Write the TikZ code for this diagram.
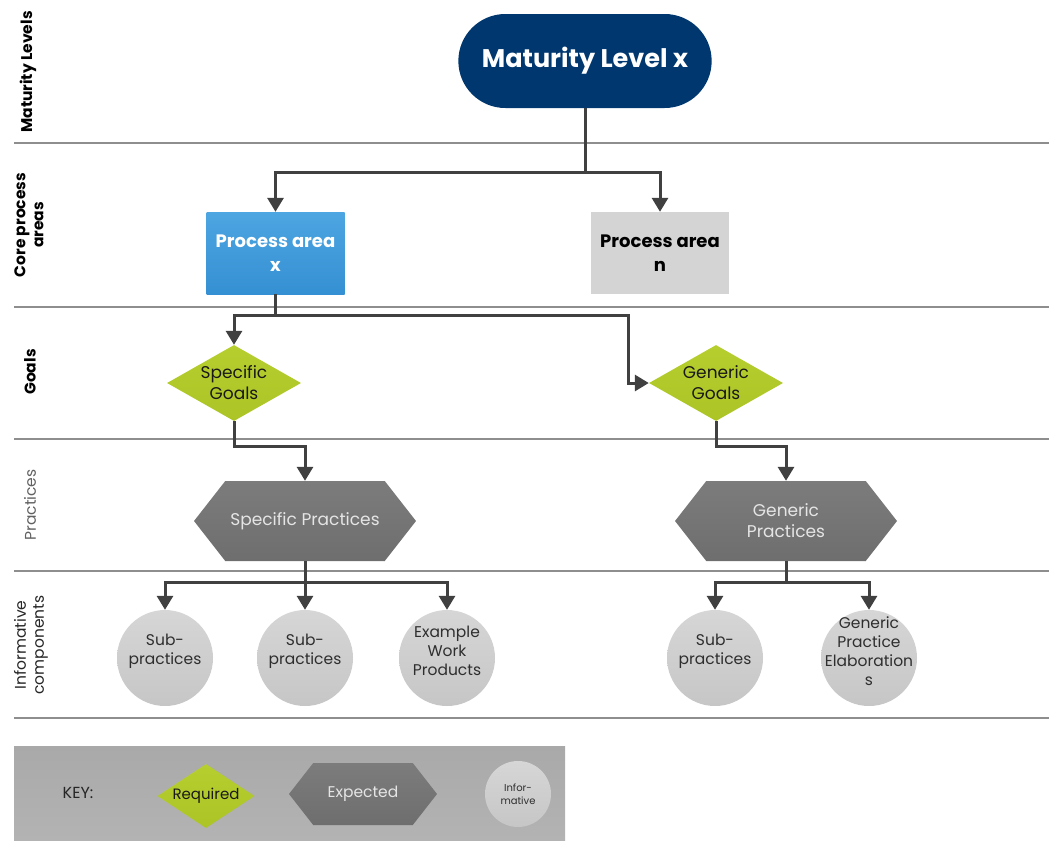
\documentclass[tikz,border=0pt]{standalone}
\usepackage{fontspec}
\setmainfont{Poppins}
\usetikzlibrary{arrows.meta,shapes.geometric,shapes.symbols,shapes.misc}

\definecolor{navy}{HTML}{00376E}
\definecolor{rulegray}{HTML}{8E8E8E}
\definecolor{linkgray}{HTML}{404040}
\definecolor{lime}{HTML}{B7CE2F}
\definecolor{limedark}{HTML}{ADC426}
\definecolor{hexgray}{HTML}{7C7C7C}
\definecolor{hexdark}{HTML}{6E6E6E}
\definecolor{infogray}{HTML}{D6D6D6}
\definecolor{infodark}{HTML}{C6C6C6}
\definecolor{areablue}{HTML}{4DA5E1}
\definecolor{areabluedark}{HTML}{3590D3}
\definecolor{areagray}{HTML}{D4D4D4}
\definecolor{keytop}{HTML}{A9A9A9}
\definecolor{keybottom}{HTML}{B3B3B3}

\tikzset{
  fs/.style 2 args={font=\fontsize{#1}{#2}\selectfont},
  rowrule/.style={draw=rulegray, line width=1.4pt},
  rowlabel/.style={rotate=90, align=center, text=black},
  conn/.style={draw=linkgray, line width=3pt},
  arr/.style={conn, -{Triangle[width=16pt,length=14pt]}},
  levelbox/.style={rounded rectangle, fill=navy, minimum width=260pt,
    minimum height=94pt, text=white, font=\fontsize{25.5}{30}\selectfont\bfseries},
  areabox/.style={rectangle, minimum width=138pt, minimum height=82pt,
    align=center, font=\fontsize{18}{24}\selectfont\bfseries},
  goal/.style={diamond, top color=lime, bottom color=limedark,
    minimum width=134pt, minimum height=76pt, inner sep=0pt},
  goaltext/.style={align=center, fs={17}{21}, text=black!90},
  practice/.style={signal, signal to=west and east, signal pointer angle=104,
    top color=hexgray, bottom color=hexdark, minimum width=222pt,
    minimum height=80pt, inner sep=0pt, align=center, fs={17}{21},
    text=white!90!black},
  info/.style={circle, top color=infogray, bottom color=infodark,
    minimum size=96pt, inner sep=0pt},
  infotext/.style={align=center, fs={15.5}{19}, text=black!82, yshift=7pt},
}

\begin{document}
\begin{tikzpicture}[x=1pt, y=-1pt]
\useasboundingbox (0,0) rectangle (1049,841);

% row separators
\foreach \yy in {143,307,439,571,718}
  \draw[rowrule] (14,\yy) -- (1049,\yy);

% row captions
\node[rowlabel, font=\fontsize{15.5}{18}\selectfont\bfseries] (lab1) at (28,72) {Maturity Levels};
\node[rowlabel, font=\fontsize{15.5}{18}\selectfont\bfseries] (lab2) at (29,225) {Core process\\areas};
\node[rowlabel, font=\fontsize{15.5}{18}\selectfont\bfseries] (lab3) at (30,372) {Goals};
\node[rowlabel, fs={15.5}{18}, text=black!62] (lab4) at (30,505) {Practices};
\node[rowlabel, fs={15.5}{18}, text=black!85] (lab5) at (31,645) {Informative\\components};

% maturity level
\node[levelbox] (ml) at (585,61) {Maturity Level x};

% process areas
\node[areabox, top color=areablue, bottom color=areabluedark, text=white] (pax) at (275.5,253) {Process area\\x};
\node[areabox, fill=areagray, text=black] (pan) at (660,253) {Process area\\n};

% goals
\node[goal, label={[goaltext]center:Specific\\Goals}] (sg) at (234,383) {};
\node[goal, label={[goaltext]center:Generic\\Goals}] (gg) at (716,383) {};

% practices
\node[practice] (sp) at (305,521) {Specific Practices};
\node[practice] (gp) at (786,521) {Generic\\Practices};

% informative components
\node[info, label={[infotext]center:Sub-\\practices}] (c1) at (165,658) {};
\node[info, label={[infotext]center:Sub-\\practices}] (c2) at (305,658) {};
\node[info, label={[infotext]center:Example\\Work\\Products}] (c3) at (447,658) {};
\node[info, label={[infotext]center:Sub-\\practices}] (c4) at (715,658) {};
\node[info, label={[infotext]center:Generic\\Practice\\Elaboration\\s}] (c5) at (869,658) {};

% connectors
\coordinate (j1) at (585,172);
\draw[conn] (ml.south) -- (j1);
\draw[arr] (j1) -| (pax.north);
\draw[arr] (j1) -| (pan.north);

\coordinate (j2) at (275.5,315);
\coordinate (j3) at (628,315);
\draw[arr] (pax.south) -- (j2) -| (sg.north);
\draw[arr] (j2) -- (j3) |- (gg.west);

\draw[arr] (sg.south) -- ++(0,25) -| (sp.north);
\draw[arr] (gg.south) -- ++(0,25) -| (gp.north);

\coordinate (j4) at (305,582);
\draw[conn] (sp.south) -- (j4);
\draw[arr] (j4) -| (c1.north);
\draw[arr] (j4) -- (c2.north);
\draw[arr] (j4) -| (c3.north);

\coordinate (j5) at (786,582);
\draw[conn] (gp.south) -- (j5);
\draw[arr] (j5) -| (c4.north);
\draw[arr] (j5) -| (c5.north);

% key
\node[rectangle, top color=keytop, bottom color=keybottom, minimum width=551pt,
  minimum height=94pt, inner sep=0pt] (key) at (289.5,793) {};
\node[fs={16}{18}, text=black!85] (keylab) at (78,793) {KEY:};
\node[goal, minimum width=97pt, minimum height=64pt,
  label={[goaltext, fs={15}{17}]center:Required}] (kreq) at (206,796) {};
\node[practice, minimum width=148pt, minimum height=62pt, fs={15.5}{17}] (kexp) at (363,794) {Expected};
\node[info, minimum size=66pt,
  label={[infotext, yshift=-7pt, fs={10}{13.5}]center:Infor-\\mative}] (kinf) at (518,794) {};
\end{tikzpicture}
\end{document}
